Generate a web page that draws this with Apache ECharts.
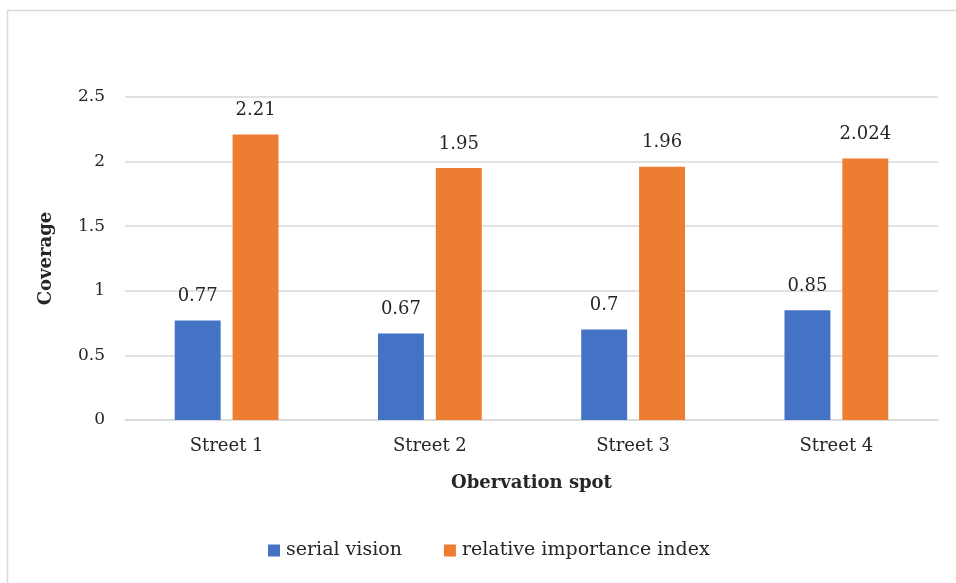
<!DOCTYPE html>
<html>
<head>
<meta charset="utf-8">
<script src="https://cdn.jsdelivr.net/npm/echarts@6/dist/echarts.min.js"></script>
<style>
html,body{margin:0;padding:0;background:#fff;}
#chart{width:956px;height:583px;}
</style>
</head>
<body>
<div id="chart"></div>
<script>
const categories = ['Street 1', 'Street 2', 'Street 3', 'Street 4'];
const serialVision = [0.77, 0.67, 0.7, 0.85];
const relativeImportance = [2.21, 1.95, 1.96, 2.024];
const seriesNames = ['serial vision', 'relative importance index'];

const FONT = 'DejaVu Serif';
const TXT = '#262626';

const chart = echarts.init(document.getElementById('chart'));
chart.setOption({
  backgroundColor: '#fff',
  animation: false,
  textStyle: { fontFamily: FONT },
  graphic: [{
    type: 'rect',
    shape: { x: 7.5, y: 10.5, width: 1200, height: 1200 },
    style: { fill: 'none', stroke: '#d9d9d9', lineWidth: 1.5 },
    silent: true
  }],
  grid: { left: 125, right: 18, top: 97, bottom: 163, containLabel: false },
  legend: {
    top: 536,
    left: 263,
    itemWidth: 12,
    itemHeight: 12,
    itemGap: 42,
    icon: 'rect',
    textStyle: { fontFamily: FONT, fontSize: 19, color: TXT, padding: [0, 0, 0, 1] },
    data: seriesNames
  },
  xAxis: {
    type: 'category',
    data: categories,
    name: 'Obervation spot',
    nameLocation: 'middle',
    nameGap: 54,
    nameTextStyle: { fontFamily: FONT, fontSize: 18, fontWeight: 'bold', color: TXT },
    axisLine: { lineStyle: { color: '#d9d9d9', width: 1.5 } },
    axisTick: { show: false },
    axisLabel: { fontFamily: FONT, fontSize: 18, color: TXT, margin: 17 }
  },
  yAxis: {
    type: 'value',
    min: 0,
    max: 2.5,
    interval: 0.5,
    name: 'Coverage',
    nameLocation: 'middle',
    nameGap: 70,
    nameRotate: 90,
    nameTextStyle: { fontFamily: FONT, fontSize: 18, fontWeight: 'bold', color: TXT },
    axisLine: { show: false },
    axisTick: { show: false },
    splitLine: { lineStyle: { color: '#d9d9d9', width: 1.5 } },
    axisLabel: { fontFamily: FONT, fontSize: 17, color: TXT, margin: 20 }
  },
  series: [
    {
      name: seriesNames[0],
      type: 'bar',
      data: serialVision,
      barWidth: '22.6%',
      barGap: '26%',
      itemStyle: { color: '#4472C4' },
      label: { show: true, position: 'top', distance: 15, fontFamily: FONT, fontSize: 18, color: TXT }
    },
    {
      name: seriesNames[1],
      type: 'bar',
      data: relativeImportance,
      barWidth: '22.6%',
      barGap: '26%',
      itemStyle: { color: '#ED7D31' },
      label: { show: true, position: 'top', distance: 15, fontFamily: FONT, fontSize: 18, color: TXT }
    }
  ]
});
</script>
</body>
</html>
